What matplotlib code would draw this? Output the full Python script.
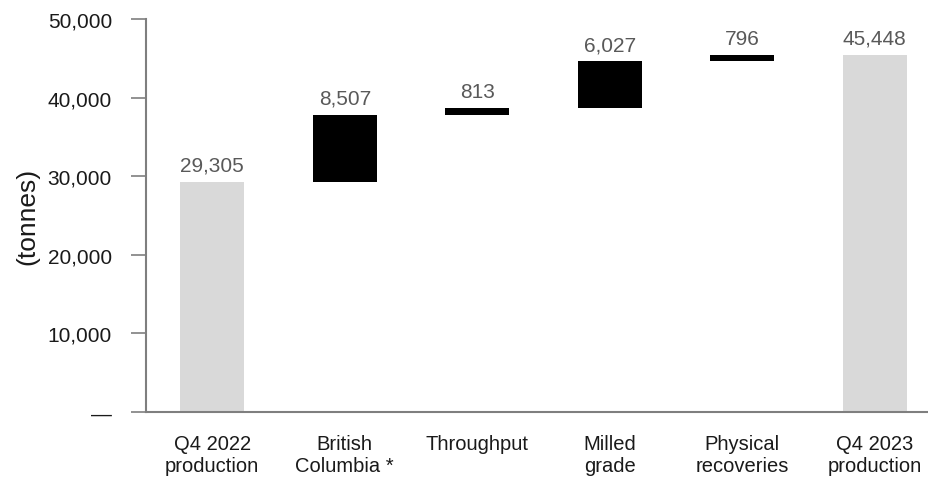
import matplotlib
matplotlib.use("Agg")
import matplotlib.pyplot as plt
from matplotlib.ticker import FuncFormatter

plt.rcParams['font.family'] = ['Liberation Sans', 'DejaVu Sans']

categories = ["Q4 2022\nproduction", "British\nColumbia *", "Throughput",
              "Milled\ngrade", "Physical\nrecoveries", "Q4 2023\nproduction"]
start_total = 29305
changes = [8507, 813, 6027, 796]
end_total = 45448
value_labels = ["29,305", "8,507", "813", "6,027", "796", "45,448"]
yticks = [0, 10000, 20000, 30000, 40000, 50000]

fig = plt.figure(figsize=(9.29, 4.81), dpi=100)
ax = fig.add_axes([146 / 929, 68 / 481, 795 / 929, 393 / 481])

grey_bar = "#d9d9d9"
dark = "#000000"
axis_grey = "#7f7f7f"
label_grey = "#595959"
width = 0.485

x = list(range(len(categories)))
bottoms = [0]
heights = [start_total]
colors = [grey_bar]
running = start_total
for c in changes:
    bottoms.append(running)
    heights.append(c)
    colors.append(dark)
    running += c
bottoms.append(0)
heights.append(end_total)
colors.append(grey_bar)

ax.bar(x, heights, bottom=bottoms, width=width, color=colors, linewidth=0)

for xi, b, h, txt in zip(x, bottoms, heights, value_labels):
    ax.annotate(txt, (xi, b + h), xytext=(0, 5), textcoords="offset points",
                ha="center", va="bottom", fontsize=15, color=label_grey)

ax.set_xlim(-0.5, 5.5)
ax.set_ylim(0, 50000)
ax.set_yticks(yticks)
ax.yaxis.set_major_formatter(FuncFormatter(lambda v, p: "\u2014" if v == 0 else f"{int(v):,}"))
ax.set_xticks(x)
ax.set_xticklabels(categories, fontsize=14.5, color="#1a1a1a", linespacing=1.2)
ax.tick_params(axis="x", length=0, pad=16)
ax.tick_params(axis="y", length=11, width=1.2, color=axis_grey, labelsize=15,
               labelcolor="#1a1a1a", pad=13.5)

for side in ("top", "right"):
    ax.spines[side].set_visible(False)
for side in ("left", "bottom"):
    ax.spines[side].set_color(axis_grey)
    ax.spines[side].set_linewidth(1.5)

ax.set_ylabel("(tonnes)", fontsize=19, color="#1a1a1a", labelpad=6)

fig.savefig("out.png", dpi=100)
